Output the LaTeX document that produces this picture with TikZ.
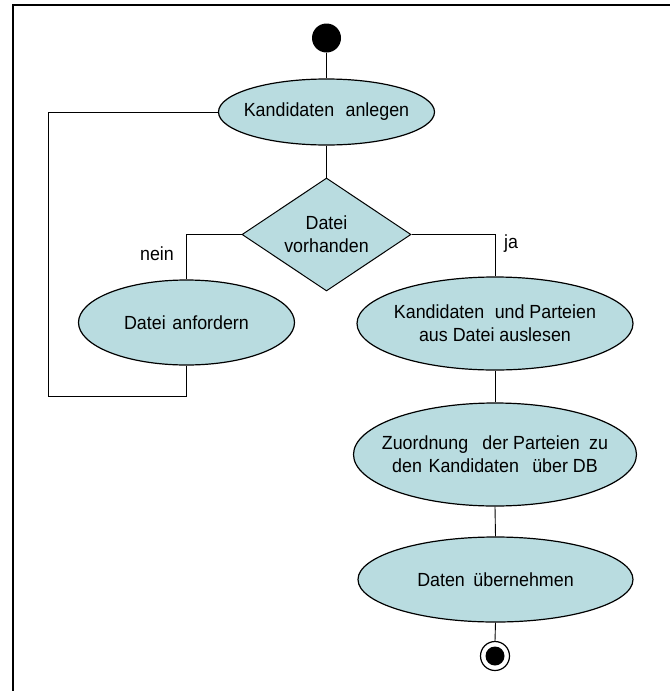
\documentclass[tikz,border=0pt]{standalone}
\usepackage{fontspec}
\setmainfont{Liberation Sans}[FakeStretch=0.94]
\usetikzlibrary{shapes.geometric}
\definecolor{actfill}{RGB}{185,220,224}
\tikzset{
  x=1pt, y=-1pt,
  base/.style={font=\fontsize{19}{23}\selectfont},
  activity/.style={ellipse, draw, fill=actfill, line width=1.2pt, inner sep=0pt},
  decision/.style={diamond, draw, fill=actfill, line width=1pt, inner sep=0pt},
  inside/.style={label={[base, align=center]center:#1}},
  flow/.style={line width=0.9pt},
  guard/.style={base, inner sep=0pt},
}
\begin{document}
\begin{tikzpicture}
\useasboundingbox (0,0) rectangle (670,691);
% frame
\draw[line width=2pt] (13,691) -- (13,5) -- (670,5);

% start and end
\node[circle, fill=black, minimum size=29pt, inner sep=0pt] (start) at (326.5,38) {};
\node[circle, draw, fill=white, line width=1.2pt, minimum size=29pt, inner sep=0pt] (stop) at (495,656) {};
\node[circle, fill=black, minimum size=19pt, inner sep=0pt] (stopdot) at (stop.center) {};

% activities
\node[activity, minimum width=216pt, minimum height=66pt,
      inside={Kandidaten\hspace{0.6em}anlegen}] (ka) at (326.5,112) {};
\node[decision, minimum width=169pt, minimum height=113pt,
      inside={Datei\\vorhanden}] (dv) at (326.5,234.5) {};
\node[activity, minimum width=216pt, minimum height=85pt,
      inside={Datei\hspace{0.35em}anfordern}] (da) at (186.5,322.5) {};
\node[activity, minimum width=276pt, minimum height=93pt,
      inside={Kandidaten\hspace{0.55em}und Parteien\\aus Datei auslesen}] (kp) at (495,323.5) {};
\node[activity, minimum width=283pt, minimum height=103pt,
      inside={Zuordnung\hspace{0.75em}der Parteien\hspace{0.5em}zu\\den\hspace{0.35em}Kandidaten\hspace{0.7em}über DB}] (zo) at (495,454.5) {};
\node[activity, minimum width=275pt, minimum height=85pt,
      inside={Daten\hspace{0.45em}übernehmen}] (dn) at (495.5,579.5) {};

% loop corners
\coordinate (loopbot) at (48,396);
\coordinate (looptop) at (48,112);

% connectors
\draw[flow] (start) -- (ka.north);
\draw[flow] (ka.south) -- (dv.north);
\draw[flow] (dv.west) -| (da.north);
\draw[flow] (dv.east) -| (kp.north);
\draw[flow] (da.south) |- (loopbot) -- (looptop) -- (ka.west);
\draw[flow] (kp.south) -- (zo.north);
\draw[flow] (zo.south) -- (dn.north);
\draw[flow] (dn.south) -- (stop.north);

% guards
\node[guard] (nein) at (157,254) {nein};
\node[guard] (ja) at (511,244) {ja};
\end{tikzpicture}
\end{document}
